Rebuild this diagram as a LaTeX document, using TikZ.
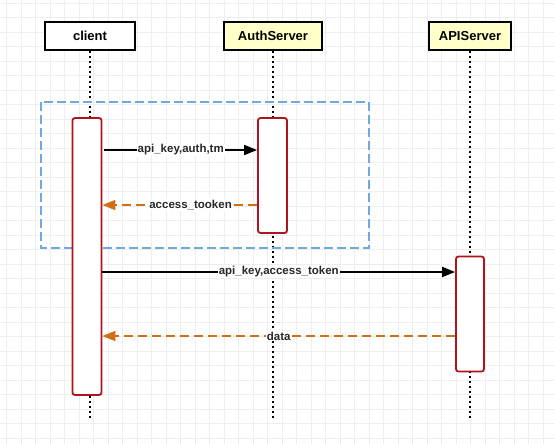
\documentclass[tikz,border=0pt]{standalone}
\usepackage{fontspec}
\setmainfont{Liberation Sans}
\usetikzlibrary{arrows.meta}
\definecolor{actoryellow}{RGB}{255,255,200}
\definecolor{barred}{RGB}{175,20,30}
\definecolor{replyorange}{RGB}{210,110,20}
\definecolor{groupblue}{RGB}{110,170,222}
\definecolor{labelgray}{RGB}{40,40,40}
\definecolor{gridgray}{RGB}{238,238,238}
\begin{document}
\begin{tikzpicture}[x=1pt,y=-1pt,
        actor/.style={draw, line width=1.8pt, minimum height=28pt, inner sep=0pt,
            font=\fontsize{13}{15}\selectfont\bfseries},
        bar/.style={draw=barred, line width=1.8pt, fill=white, rounded corners=2.5pt,
            inner sep=0pt},
        life/.style={line width=2pt, dash pattern=on 2pt off 3pt},
        call/.style={line width=1.8pt, -{Triangle[length=13pt,width=10pt]}},
        reply/.style={draw=replyorange, line width=1.8pt, dash pattern=on 9pt off 5pt,
            -{Triangle[length=13pt,width=10pt]}, replyorange},
        msg/.style={fill=white, inner sep=1pt, text=labelgray,
            font=\fontsize{11.5}{14}\selectfont\bfseries}]
    \useasboundingbox (0,0) rectangle (554,444);
    \fill[white] (0,0) rectangle (554,444);
    \foreach \gx in {6.5,21,...,554} \draw[gridgray, line width=0.8pt] (\gx,0) -- (\gx,444);
    \foreach \gy in {3.3,17.8,...,444} \draw[gridgray, line width=0.8pt] (0,\gy) -- (554,\gy);

    \node[actor, fill=white, minimum width=90pt] (client) at (90,36) {client};
    \node[actor, fill=actoryellow, minimum width=98pt] (auth) at (273,36) {AuthServer};
    \node[actor, fill=actoryellow, minimum width=82pt] (api) at (470,36) {APIServer};

    \coordinate (lifeend) at (0,418);
    \draw[life] (client.south) -- (client.south |- lifeend);
    \draw[life] (auth.south) -- (auth.south |- lifeend);
    \draw[life] (api.south) -- (api.south |- lifeend);

    \draw[groupblue, line width=1.6pt, dash pattern=on 9pt off 4pt] (41,102) rectangle (369,248);

    \node[bar, minimum width=29pt, minimum height=277pt] (clientbar) at (87,256.5) {};
    \node[bar, minimum width=29pt, minimum height=115pt] (authbar) at (272.5,175.5) {};
    \node[bar, minimum width=28pt, minimum height=115pt] (apibar) at (470,314) {};

    \coordinate (m1) at (0,150);
    \coordinate (m2) at (0,205);
    \coordinate (m3) at (0,272);
    \coordinate (m4) at (0,336);
    \draw[call] ([xshift=2pt]clientbar.east |- m1) -- (authbar.west |- m1)
        node[msg, pos=0.5] {api\_key,auth,tm};
    \draw[reply] (authbar.west |- m2) -- (clientbar.east |- m2)
        node[msg, pos=0.43] {access\_tooken};
    \draw[call] (clientbar.east |- m3) -- (apibar.west |- m3)
        node[msg, midway] {api\_key,access\_token};
    \draw[reply] (apibar.west |- m4) -- (clientbar.east |- m4)
        node[msg, midway] {data};
\end{tikzpicture}
\end{document}
